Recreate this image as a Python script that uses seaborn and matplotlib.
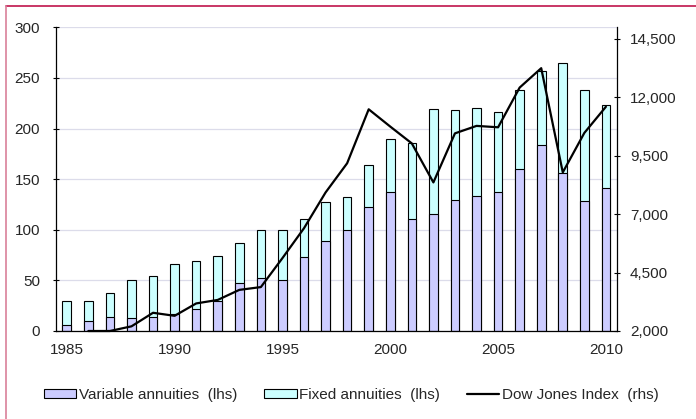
import numpy as np
import pandas as pd
import matplotlib
matplotlib.use("Agg")
import matplotlib.pyplot as plt
from matplotlib.patches import Patch
from matplotlib.lines import Line2D
from matplotlib.ticker import FuncFormatter, FixedLocator
import seaborn as sns

# Annual annuity sales (USD bn) and Dow Jones year-end level
years = list(range(1985, 2011))
variable = [6, 10, 13.5, 12.5, 14, 17, 22, 30, 47.5, 52.5, 50, 73.5, 89, 100,
            122, 137.5, 111, 116, 129.5, 133, 137.5, 160.5, 184, 156.5, 128.5, 141]
fixed = [24, 20, 24.5, 37.5, 40.5, 49, 47, 44.5, 39, 47.5, 50, 37.5, 38, 32,
         42, 52, 74.5, 103.5, 89, 87.5, 78.5, 78, 73, 108.5, 110, 82]
dow = [np.nan, 2000, 2000, 2200, 2780, 2650, 3180, 3330, 3760, 3880, 5120,
       6400, 7930, 9180, 11490, 10750, 10030, 8360, 10460, 10780, 10720,
       12420, 13250, 8790, 10480, 11600]

left_ticks = [0, 50, 100, 150, 200, 250, 300]
right_ticks = [2000, 4500, 7000, 9500, 12000, 14500]
year_labels = ["1985", "1990", "1995", "2000", "2005", "2010"]

VAR_COLOR = "#ccccff"
FIX_COLOR = "#ccffff"

sns.set_style("white")
plt.rcParams["font.family"] = ["Liberation Sans", "DejaVu Sans"]
plt.rcParams["font.size"] = 11

df = pd.DataFrame({"year": [str(y) for y in years],
                   "variable": variable,
                   "total": np.array(variable) + np.array(fixed)})

fig = plt.figure(figsize=(6.96, 4.19), dpi=100)
ax = fig.add_axes([56 / 696, 1 - 331 / 419, (616.7 - 56) / 696, (331 - 27.3) / 419])

# stacked bars: full height in cyan, variable part drawn over it
sns.barplot(data=df, x="year", y="total", color=FIX_COLOR, saturation=1,
            width=0.4, edgecolor="black", linewidth=0.8, ax=ax)
sns.barplot(data=df, x="year", y="variable", color=VAR_COLOR, saturation=1,
            width=0.4, edgecolor="black", linewidth=0.8, ax=ax)

n = len(years)
ax.set_xlim(-0.5, n - 0.5)
ax.set_ylim(0, 300)
ax.set_xlabel("")
ax.set_ylabel("")
ax.set_yticks(left_ticks)
ax.xaxis.set_major_locator(FixedLocator([years.index(int(y)) for y in year_labels]))
ax.set_xticklabels(year_labels)
ax.xaxis.set_minor_locator(FixedLocator(np.arange(-0.5, n, 1.0)))
ax.tick_params(axis="x", which="major", length=0, pad=9, labelsize=11)
ax.tick_params(axis="x", which="minor", direction="out", length=2.5, width=0.8,
               color="black")
ax.tick_params(axis="y", direction="inout", length=5, width=0.8, pad=9,
               labelsize=11, color="black", left=True)
ax.yaxis.grid(True, color="#dcdcea", linewidth=0.9)
ax.set_axisbelow(True)
for side in ["top", "right"]:
    ax.spines[side].set_visible(False)
for side in ["left", "bottom"]:
    ax.spines[side].set_color("black")
    ax.spines[side].set_linewidth(0.9)

# Dow Jones on the secondary axis
ax2 = ax.twinx()
sns.lineplot(x=np.arange(n), y=dow, color="black", linewidth=1.6, ax=ax2,
             clip_on=False)
ax2.set_ylim(2000, 15000)
ax2.set_yticks(right_ticks)
ax2.yaxis.set_major_formatter(FuncFormatter(lambda v, p: f"{int(v):,}"))
ax2.tick_params(axis="y", direction="inout", length=5, width=0.8, pad=7,
                labelsize=11, color="black", right=True)
for side in ["top", "left", "bottom"]:
    ax2.spines[side].set_visible(False)
ax2.spines["right"].set_color("black")
ax2.spines["right"].set_linewidth(0.9)
ax2.set_xlim(-0.5, n - 0.5)

handles = [Patch(facecolor=VAR_COLOR, edgecolor="black", linewidth=0.8),
           Patch(facecolor=FIX_COLOR, edgecolor="black", linewidth=0.8),
           Line2D([], [], color="black", linewidth=1.6)]
labels = ["Variable annuities  (lhs)", "Fixed annuities  (lhs)",
          "Dow Jones Index  (rhs)"]
fig.legend(handles, labels, loc="center", bbox_to_anchor=(351 / 696, 1 - 395 / 419),
           ncol=3, frameon=False, fontsize=11, handlelength=2.15,
           handleheight=0.5, handletextpad=0.15, columnspacing=1.75,
           borderaxespad=0)

# frame lines along the top and left edge of the figure
fig.add_artist(Line2D([5.5 / 696, 1], [1 - 6 / 419, 1 - 6 / 419],
                      transform=fig.transFigure, color="#c0144c", linewidth=1.2))
fig.add_artist(Line2D([5.5 / 696, 5.5 / 696], [0, 1 - 6 / 419],
                      transform=fig.transFigure, color="#d9809a", linewidth=1.2))

fig.savefig("out.png", dpi=100)
